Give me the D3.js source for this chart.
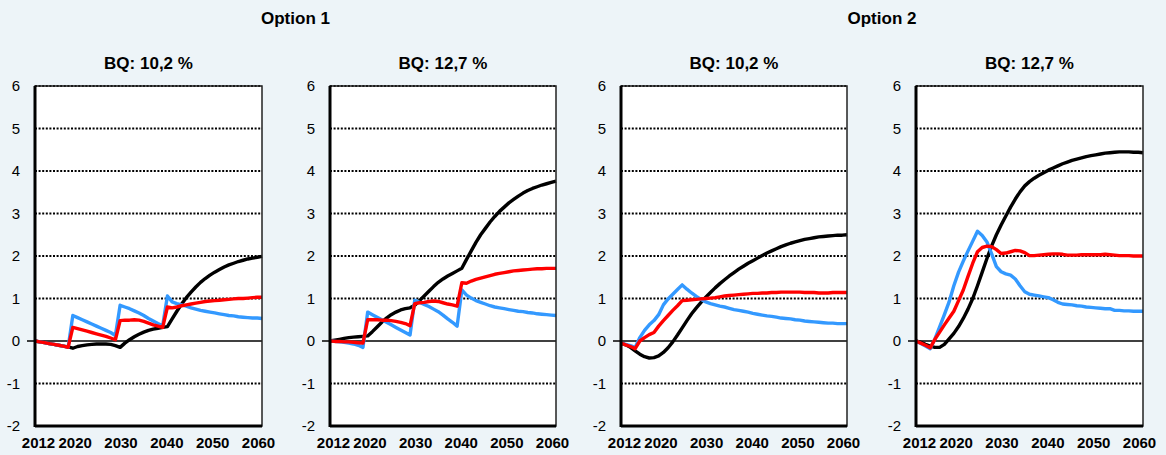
<!DOCTYPE html>
<html>
<head>
<meta charset="utf-8">
<script src="https://cdn.jsdelivr.net/npm/d3@7/dist/d3.min.js"></script>
<style>
  html, body { margin: 0; padding: 0; background: #edf4f8; }
  svg { display: block; }
  text { font-family: "Liberation Sans", Arial, sans-serif; fill: #000; }
</style>
</head>
<body>
<svg id="chart" width="1166" height="455"></svg>
<script>
// ---------- DATA ----------
const years = [2012,2013,2014,2015,2016,2017,2018,2019,2020,2021,2022,2023,2024,2025,2026,2027,2028,2029,2030,
  2031,2032,2033,2034,2035,2036,2037,2038,2039,2040,2041,2042,2043,2044,2045,2046,2047,2048,2049,2050,
  2051,2052,2053,2054,2055,2056,2057,2058,2059,2060];
const xTickLabels = [2012, 2020, 2030, 2040, 2050, 2060];
const yTickLabels = [-2, -1, 0, 1, 2, 3, 4, 5, 6];
const groupTitles = ["Option 1", "Option 2"];
const panelTitles = ["BQ: 10,2 %", "BQ: 12,7 %", "BQ: 10,2 %", "BQ: 12,7 %"];

// Option 1, BQ 10,2 %
const p1Black = [0,-0.02,-0.04,-0.06,-0.08,-0.10,-0.12,-0.14,-0.17,
  -0.13,-0.11,-0.09,-0.08,-0.07,-0.07,-0.07,-0.08,-0.11,-0.15,
  -0.05,0.03,0.10,0.16,0.21,0.25,0.28,0.30,0.32,0.34,
  0.52,0.70,0.87,1.02,1.15,1.27,1.38,1.47,1.55,1.62,
  1.68,1.74,1.79,1.83,1.87,1.90,1.93,1.95,1.97,1.99];
const p1Blue = [0,-0.02,-0.04,-0.06,-0.08,-0.10,-0.12,-0.15,
  0.60,0.55,0.50,0.45,0.40,0.35,0.30,0.25,0.20,0.13,
  0.84,0.80,0.76,0.71,0.66,0.60,0.53,0.47,0.41,0.36,
  1.06,0.92,0.88,0.85,0.82,0.78,0.75,0.72,0.70,0.68,
  0.66,0.64,0.62,0.60,0.59,0.57,0.56,0.55,0.54,0.54,0.53];
const p1Red = [0,-0.02,-0.04,-0.06,-0.08,-0.10,-0.12,-0.15,
  0.32,0.29,0.26,0.23,0.20,0.17,0.14,0.11,0.07,0.03,
  0.48,0.49,0.49,0.50,0.49,0.46,0.42,0.38,0.35,0.32,
  0.80,0.78,0.80,0.83,0.85,0.87,0.89,0.91,0.93,0.94,
  0.95,0.96,0.97,0.98,0.99,1.00,1.00,1.01,1.02,1.03,1.03];

// Option 1, BQ 12,7 %
const p2Black = [0,0.02,0.04,0.06,0.08,0.09,0.10,0.11,0.12,
  0.22,0.33,0.44,0.54,0.62,0.68,0.73,0.76,0.78,0.84,
  0.95,1.06,1.17,1.28,1.38,1.46,1.53,1.59,1.65,1.71,
  1.92,2.12,2.32,2.50,2.65,2.80,2.93,3.05,3.15,3.25,
  3.33,3.41,3.48,3.54,3.59,3.63,3.67,3.70,3.73,3.76];
const p2Blue = [0,-0.01,-0.02,-0.03,-0.05,-0.07,-0.10,-0.15,
  0.68,0.62,0.56,0.50,0.44,0.38,0.32,0.26,0.20,0.14,
  0.96,0.91,0.86,0.81,0.75,0.69,0.61,0.52,0.44,0.35,
  1.20,1.08,1.01,0.95,0.91,0.87,0.83,0.80,0.78,0.76,
  0.74,0.72,0.70,0.69,0.67,0.66,0.64,0.63,0.62,0.61,0.60];
const p2Red = [0,-0.01,-0.01,-0.02,-0.02,-0.03,-0.04,-0.05,
  0.50,0.50,0.50,0.49,0.49,0.48,0.46,0.44,0.41,0.36,
  0.88,0.90,0.91,0.93,0.94,0.93,0.90,0.87,0.85,0.82,
  1.37,1.36,1.41,1.45,1.48,1.51,1.54,1.57,1.59,1.61,
  1.63,1.65,1.66,1.67,1.68,1.69,1.70,1.70,1.71,1.71,1.71];

// Option 2, BQ 10,2 %
const p3Black = [-0.05,-0.09,-0.15,-0.23,-0.31,-0.37,-0.40,-0.39,-0.35,
  -0.27,-0.16,-0.02,0.14,0.31,0.48,0.64,0.78,0.91,1.03,
  1.14,1.25,1.35,1.44,1.53,1.61,1.69,1.76,1.83,1.89,
  1.95,2.01,2.07,2.12,2.17,2.22,2.26,2.30,2.33,2.36,
  2.39,2.41,2.43,2.45,2.46,2.47,2.48,2.49,2.49,2.50];
const p3Blue = [-0.05,-0.08,-0.11,-0.15,
  0.08,0.25,0.38,0.48,0.62,0.85,0.99,1.10,1.21,1.32,
  1.22,1.13,1.05,0.98,0.92,0.88,0.85,0.82,0.80,0.77,
  0.74,0.72,0.70,0.68,0.65,0.63,0.61,0.59,0.58,0.56,
  0.54,0.53,0.52,0.50,0.49,0.47,0.46,0.45,0.44,0.43,
  0.42,0.42,0.41,0.41,0.41];
const p3Red = [-0.05,-0.09,-0.13,-0.18,
  0.00,0.08,0.15,0.20,0.35,0.48,0.60,0.72,0.83,0.95,
  0.96,0.97,0.98,0.99,1.00,1.01,1.02,1.04,1.06,1.07,
  1.08,1.09,1.10,1.11,1.12,1.12,1.13,1.13,1.14,1.14,
  1.15,1.15,1.15,1.15,1.15,1.14,1.14,1.14,1.13,1.13,
  1.13,1.14,1.14,1.14,1.14];

// Option 2, BQ 12,7 %
const p4Black = [0,-0.03,-0.08,-0.12,-0.15,-0.15,-0.08,0.05,0.18,
  0.34,0.53,0.75,1.00,1.30,1.62,1.94,2.24,2.50,2.73,
  2.94,3.15,3.34,3.51,3.65,3.75,3.83,3.90,3.96,4.02,
  4.07,4.12,4.17,4.21,4.25,4.28,4.31,4.34,4.36,4.38,
  4.40,4.42,4.43,4.44,4.45,4.45,4.45,4.44,4.44,4.43];
const p4Blue = [0,-0.06,-0.12,-0.18,0.05,0.33,0.62,0.92,1.30,
  1.62,1.88,2.12,2.35,2.58,2.48,2.33,2.05,1.75,1.63,
  1.58,1.55,1.46,1.30,1.16,1.10,1.08,1.06,1.04,1.02,
  0.97,0.91,0.87,0.86,0.85,0.83,0.82,0.80,0.79,0.78,
  0.77,0.76,0.76,0.72,0.72,0.71,0.71,0.70,0.70,0.70];
const p4Red = [0,-0.05,-0.10,-0.16,0.04,0.21,0.38,0.54,0.70,
  0.95,1.20,1.52,1.83,2.10,2.20,2.23,2.22,2.15,2.06,
  2.07,2.10,2.13,2.12,2.08,2.01,2.01,2.02,2.03,2.04,
  2.05,2.05,2.04,2.02,2.02,2.02,2.03,2.03,2.03,2.03,
  2.03,2.04,2.03,2.02,2.01,2.01,2.01,2.00,2.00,2.00];

const panelSeries = [
  [p1Black, p1Blue, p1Red],
  [p2Black, p2Blue, p2Red],
  [p3Black, p3Blue, p3Red],
  [p4Black, p4Blue, p4Red]
];
const seriesColors = ["#000000", "#3399ff", "#ff0000"];

// ---------- LAYOUT ----------
const panelX = [[35, 262], [330, 556], [621, 847], [916, 1143]];
const plotTop = 86, plotBottom = 426;
const FONT = '"Liberation Sans", Arial, sans-serif';

const svg = d3.select("#chart");
svg.append("rect").attr("width", 1166).attr("height", 455).attr("fill", "#edf4f8");

// group titles
groupTitles.forEach((t, g) => {
  const cx = (panelX[g*2][0] + panelX[g*2+1][1]) / 2;
  svg.append("text").attr("x", cx).attr("y", 24)
    .attr("text-anchor", "middle").attr("font-weight", "bold").attr("font-size", 17).text(t);
});

panelSeries.forEach((series, i) => {
  const [x0, x1] = panelX[i];
  const x = d3.scaleLinear().domain([2012, 2060]).range([x0, x1]);
  const xLab = d3.scaleLinear().domain([2012, 2060]).range([x0 + 3, x1 - 4]);
  const y = d3.scaleLinear().domain([-2, 6]).range([plotBottom, plotTop]);
  const g = svg.append("g");

  g.append("text").attr("x", (x0 + x1) / 2).attr("y", 69)
    .attr("text-anchor", "middle").attr("font-weight", "bold").attr("font-size", 17)
    .text(panelTitles[i]);

  g.append("rect").attr("x", x0).attr("y", plotTop)
    .attr("width", x1 - x0).attr("height", plotBottom - plotTop).attr("fill", "#fff");

  // gridlines
  yTickLabels.filter(v => v !== 0 && v !== -2).forEach(v => {
    g.append("line").attr("x1", x0).attr("x2", x1).attr("y1", y(v)).attr("y2", y(v))
      .attr("stroke", "#000").attr("stroke-width", 2).attr("stroke-dasharray", "2,1.6");
  });
  g.append("line").attr("x1", x0 - 8).attr("x2", x1).attr("y1", y(0)).attr("y2", y(0))
    .attr("stroke", "#000").attr("stroke-width", 1.5);

  // y axis labels
  const yAxis = d3.axisLeft(y).tickValues(yTickLabels).tickSize(0).tickPadding(15)
    .tickFormat(d => String(d));
  const ya = g.append("g").attr("transform", `translate(${x0},0)`).call(yAxis);
  ya.select(".domain").remove();
  ya.selectAll("text").attr("font-size", 15).attr("font-family", FONT);

  // x axis labels
  const xAxis = d3.axisBottom(xLab).tickValues(xTickLabels).tickSize(0).tickPadding(11)
    .tickFormat(d => String(d));
  const xa = g.append("g").attr("transform", `translate(0,${plotBottom})`).call(xAxis);
  xa.select(".domain").remove();
  xa.selectAll("text").attr("font-size", 15).attr("font-weight", "bold").attr("font-family", FONT);

  // lines
  const line = d3.line().x((d, k) => x(years[k])).y(d => y(d));
  series.forEach((s, k) => {
    g.append("path").datum(s).attr("d", line).attr("fill", "none")
      .attr("stroke", seriesColors[k]).attr("stroke-width", 3.4)
      .attr("stroke-linejoin", "round");
  });

  // frame
  g.append("rect").attr("x", x0).attr("y", plotTop)
    .attr("width", x1 - x0).attr("height", plotBottom - plotTop)
    .attr("fill", "none").attr("stroke", "#222").attr("stroke-width", 1.5);
  g.append("line").attr("x1", x0).attr("x2", x0).attr("y1", plotTop).attr("y2", plotBottom + 1)
    .attr("stroke", "#000").attr("stroke-width", 3);
  g.append("line").attr("x1", x0).attr("x2", x1).attr("y1", plotBottom).attr("y2", plotBottom)
    .attr("stroke", "#000").attr("stroke-width", 3);
});
</script>
</body>
</html>
